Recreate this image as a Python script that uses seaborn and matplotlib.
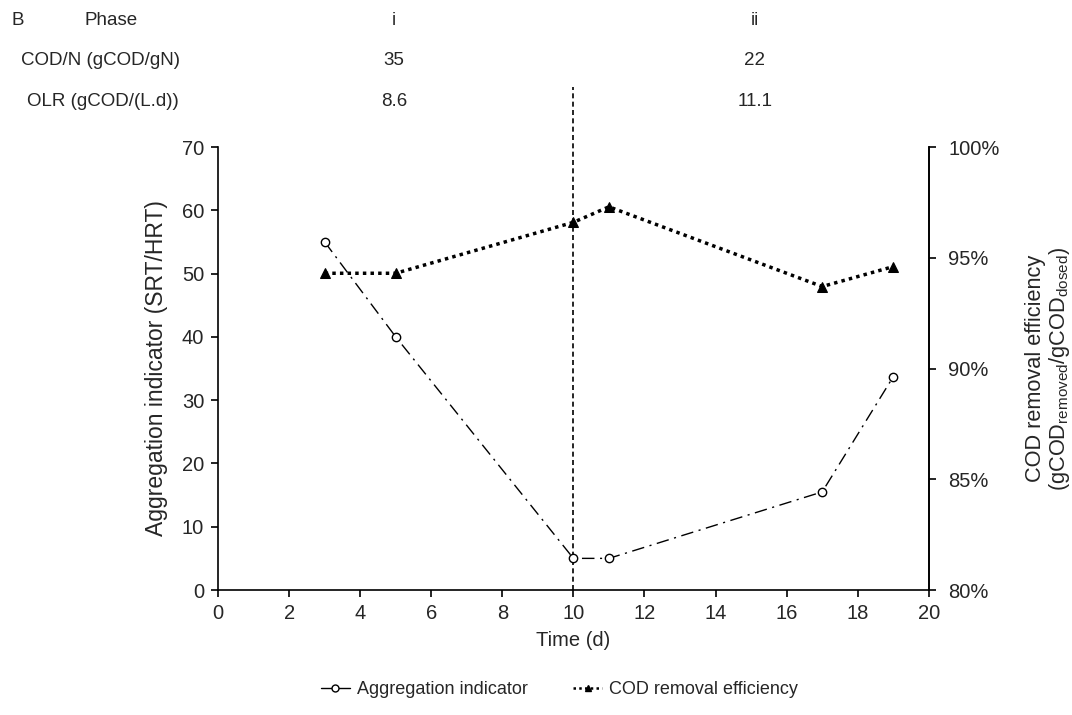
import numpy as np
import pandas as pd
import matplotlib.pyplot as plt
from matplotlib.lines import Line2D
from matplotlib.ticker import FuncFormatter
import seaborn as sns

# Data
time_agg = [3, 5, 10, 11, 17, 19]
aggregation = [55.0, 40.0, 5.0, 5.0, 15.5, 33.7]
time_cod = [3, 5, 10, 11, 17, 19]
cod_removal = [94.3, 94.3, 96.6, 97.3, 93.7, 94.6]

phase_x = [4.95, 15.1]
phase_labels = ['i', 'ii']
codn_labels = ['35', '22']
olr_labels = ['8.6', '11.1']
phase_boundary = 10

sns.set_style("ticks")
plt.rcParams['font.family'] = ['Liberation Sans', 'DejaVu Sans']
plt.rcParams['mathtext.fontset'] = 'custom'
plt.rcParams['mathtext.rm'] = 'Liberation Sans'
plt.rcParams['mathtext.it'] = 'Liberation Sans:italic'

agg_df = pd.DataFrame({'Time': time_agg, 'Aggregation': aggregation})
cod_df = pd.DataFrame({'Time': time_cod, 'COD': cod_removal})

TICK_FS = 14.5
HEAD_FS = 13.5

fig = plt.figure(figsize=(10.72, 7.15), dpi=100)
ax = fig.add_axes([0.2034, 0.1748, 0.663, 0.6196])
ax2 = ax.twinx()

sns.lineplot(data=agg_df, x='Time', y='Aggregation', ax=ax, color='black',
             linewidth=1.0, marker='o', markersize=6, markerfacecolor='white',
             markeredgecolor='black', markeredgewidth=1.0, zorder=3)
ax.lines[-1].set_linestyle((0, (9, 4, 1.5, 4)))

sns.lineplot(data=cod_df, x='Time', y='COD', ax=ax2, color='black',
             linewidth=2.5, marker='^', markersize=6.5, markerfacecolor='black',
             markeredgecolor='black', zorder=3)
ax2.lines[-1].set_linestyle((0, (1, 1.2)))

ax.plot([phase_boundary, phase_boundary], [0, 79.5], color='black',
        linewidth=1.2, linestyle=(0, (3, 2)), clip_on=False, zorder=2)

ax.set_xlim(0, 20)
ax.set_ylim(0, 70)
ax2.set_ylim(80, 100)
ax.set_xticks(np.arange(0, 21, 2))
ax.set_yticks(np.arange(0, 71, 10))
ax2.set_yticks(np.arange(80, 101, 5))
ax2.yaxis.set_major_formatter(FuncFormatter(lambda v, p: f'{v:.0f}%'))

for a in (ax, ax2):
    a.spines['top'].set_visible(False)
    a.tick_params(labelsize=TICK_FS, length=5, width=1.2, color='black', pad=5)
    for s in a.spines.values():
        s.set_linewidth(1.2)
        s.set_color('black')
ax2.spines['left'].set_visible(False)
ax2.spines['bottom'].set_visible(False)
ax2.tick_params(axis='y', pad=9)

ax.set_xlabel('Time (d)', fontsize=14.5, labelpad=6)
ax.set_ylabel('Aggregation indicator (SRT/HRT)', fontsize=16.5)
ax.yaxis.set_label_coords(-0.070, 0.5)
ax2.set_ylabel('COD removal efficiency\n(gCOD$_{\\mathrm{removed}}$/gCOD$_{\\mathrm{dosed}}$)',
               fontsize=15.7, linespacing=1.05)
ax2.yaxis.set_label_coords(1.135, 0.5)

# Header table
W = fig.bbox.width
fig.text(0.011, 0.972, 'B', fontsize=HEAD_FS, va='center')
fig.text(0.079, 0.972, 'Phase', fontsize=HEAD_FS, va='center')
fig.text(0.020, 0.915, 'COD/N (gCOD/gN)', fontsize=HEAD_FS, va='center')
fig.text(0.025, 0.858, 'OLR (gCOD/(L.d))', fontsize=HEAD_FS, va='center')
for xv, p, c, o in zip(phase_x, phase_labels, codn_labels, olr_labels):
    xf = ax.transData.transform((xv, 0))[0] / W
    fig.text(xf, 0.972, p, fontsize=HEAD_FS, ha='center', va='center')
    fig.text(xf, 0.915, c, fontsize=HEAD_FS, ha='center', va='center')
    fig.text(xf, 0.858, o, fontsize=HEAD_FS, ha='center', va='center')

h1 = Line2D([], [], color='black', linewidth=1.0, marker='o', markersize=5,
            markerfacecolor='white', markeredgecolor='black')
h2 = Line2D([], [], color='black', linewidth=1.8, linestyle=(0, (1, 1.3)),
            marker='^', markersize=5, markerfacecolor='black')
fig.legend([h1, h2], ['Aggregation indicator', 'COD removal efficiency'],
           loc='center', bbox_to_anchor=(0.522, 0.035), ncol=2, frameon=False,
           fontsize=13, handlelength=1.6, columnspacing=2.5, handletextpad=0.4)

fig.savefig('out.png', dpi=100)
